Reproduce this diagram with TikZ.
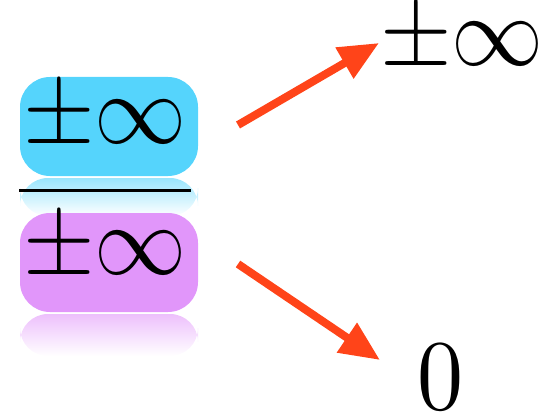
\documentclass[tikz,border=0pt]{standalone}
\usetikzlibrary{arrows.meta}
\definecolor{boxcyan}{HTML}{55D4FC}
\definecolor{boxpurple}{HTML}{E196FA}
\definecolor{arrowred}{HTML}{FF4419}
\newcommand{\hugemath}[1]{\scalebox{9.2}[10]{$#1$}}
\begin{document}
\begin{tikzpicture}[x=1pt,y=-1pt,
  big/.style={inner sep=0pt},
  pill/.style={rounded corners=30pt},
  arr/.style={draw=arrowred, line width=8pt, -{Triangle[length=40pt,width=34pt]}}]
\useasboundingbox (0,0) rectangle (559,417);
% reflections
\shade[top color=boxcyan!60, middle color=boxcyan!22, bottom color=white, rounded corners=28pt] (20,178) rectangle (198,216);
\shade[top color=boxpurple!60, middle color=boxpurple!22, bottom color=white, rounded corners=28pt] (20,314) rectangle (198,356);
% boxes
\fill[boxcyan, pill] (20,77) rectangle (198,176);
\fill[boxpurple, pill] (20,213) rectangle (198,312);
% fraction bar
\coordinate (barl) at (19,190);
\coordinate (barr) at (191,190);
\draw[line width=3pt] (barl) -- (barr);
% texts
\node[big] (num) at (105,118) {\hugemath{\pm\infty}};
\node[big] (den) at (105,249) {\hugemath{\pm\infty}};
\node[big] (res1) at (462,41) {\hugemath{\pm\infty}};
\node[big] (res2) at (440,377) {\hugemath{0}};
% arrows
\coordinate (a1s) at (238,125);
\coordinate (a1e) at (379,43);
\coordinate (a2s) at (238,264);
\coordinate (a2e) at (380,360);
\draw[arr] (a1s) -- (a1e);
\draw[arr] (a2s) -- (a2e);
\end{tikzpicture}
\end{document}
